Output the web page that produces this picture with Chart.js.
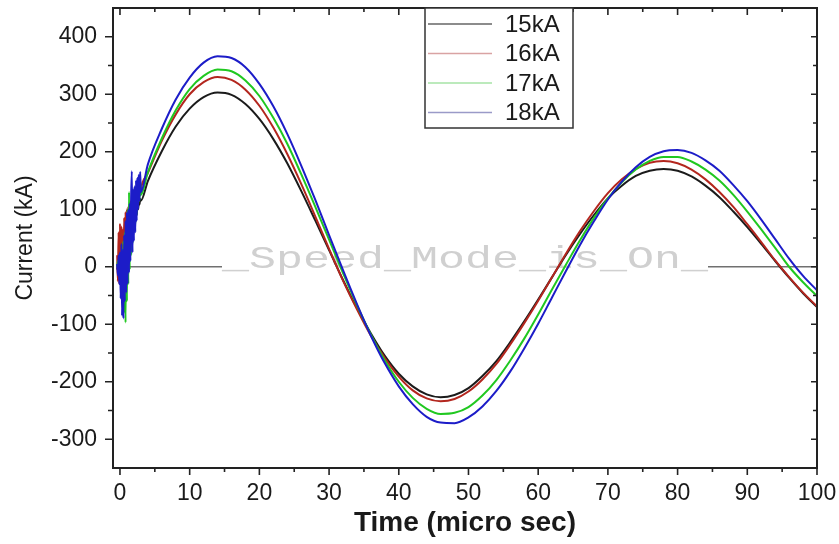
<!DOCTYPE html>
<html>
<head>
<meta charset="utf-8">
<script src="https://cdn.jsdelivr.net/npm/chart.js@4.4.1/dist/chart.umd.min.js"></script>
<style>
  html, body { margin: 0; padding: 0; background: #fff; }
  #wrap { width: 839px; height: 544px; }
</style>
</head>
<body>
<div id="wrap"><canvas id="chart" width="839" height="544"></canvas></div>
<script>
// time axis (micro sec): dense at the noisy start, then every 2 us
const times = [
  -0.4, -0.3, -0.2, -0.1, 0, 0.1, 0.2, 0.3, 0.4, 0.5, 0.6, 0.7, 0.8, 0.9, 1.0, 1.1, 1.2,
  1.3, 1.4, 1.5, 1.6, 1.7, 1.8, 1.9, 2.0, 2.1, 2.2, 2.3, 2.4, 2.5, 2.6, 2.7, 2.8, 2.9, 3.0,
  4, 6, 8, 10, 12, 14, 16, 18, 20, 22, 24, 26, 28, 30, 32, 34, 36, 38, 40, 42, 44, 46, 48,
  50, 52, 54, 56, 58, 60, 62, 64, 66, 68, 70, 72, 74, 76, 78, 80, 82, 84, 86, 88, 90, 92,
  94, 96, 98, 100
];

const cur15 = [
  -5, 5, -10, 10, -15, 20, -20, 30, -15, 40, -5, 45, 5, 55, 15, 60, 30, 70, 40, 75, 50, 80,
  60, 85, 70, 90, 80, 95, 90, 105, 100, 110, 108, 118, 115,
  149, 201, 244, 275, 295, 303, 299, 283, 257, 222, 180, 132, 81, 29, -23, -72, -116, -155,
  -186, -208, -222, -227, -223, -211, -190, -164, -131, -95, -57, -18, 21, 57, 90, 119, 141,
  158, 167, 170, 167, 157, 141, 121, 96, 69, 40, 10, -19, -46, -70
];

const cur16 = [
  20, -25, 60, -30, 75, -20, 70, -10, 65, 0, 85, 15, 95, 25, 100, 40, 105, 50, 110, 60, 115,
  75, 120, 85, 120, 95, 125, 100, 128, 110, 130, 115, 135, 125, 135,
  163, 219, 265, 300, 321, 330, 325, 308, 280, 242, 196, 144, 88, 31, -24, -74, -120, -159,
  -191, -215, -229, -234, -230, -217, -196, -169, -135, -98, -59, -18, 23, 62, 97, 128, 152,
  170, 181, 184, 180, 169, 152, 130, 104, 74, 43, 11, -18, -45, -69
];

const cur17 = [
  0, 10, -10, 15, -20, 20, -40, 30, -60, 45, -80, 60, -97, 75, -60, 100, -30, 130, -5, 110,
  20, 120, 40, 125, 60, 135, 75, 140, 90, 145, 105, 150, 115, 150, 125,
  164, 223, 272, 309, 332, 343, 340, 324, 297, 259, 214, 161, 105, 47, -11, -67, -118, -163,
  -200, -228, -247, -256, -254, -244, -224, -197, -163, -125, -83, -39, 4, 46, 85, 119, 147,
  169, 184, 191, 191, 183, 169, 150, 125, 96, 65, 33, 0, -27, -51
];

const cur18 = [
  5, -15, 20, -30, 25, -55, 40, -85, 30, -90, 55, -60, 80, -45, 95, -30, 100, -10, 110, 10,
  120, 166, 25, 135, 45, 140, 60, 150, 80, 155, 100, 160, 115, 165, 130,
  178, 240, 291, 329, 355, 366, 363, 347, 318, 279, 231, 176, 117, 55, -6, -65, -120, -168,
  -208, -239, -261, -271, -272, -262, -243, -216, -182, -142, -99, -53, -7, 38, 79, 117, 148,
  173, 191, 201, 203, 198, 185, 167, 142, 114, 82, 48, 14, -16, -41
];

const seriesLabels = ['15kA', '16kA', '17kA', '18kA'];
const seriesColors = ['#1b1b1b', '#b3261e', '#20c820', '#1c1cc8'];
const legendColors = ['#666666', '#d9a3a3', '#a6e3a6', '#9a9ac8'];

const xTicks = [0, 10, 20, 30, 40, 50, 60, 70, 80, 90, 100];
const xMinor = [5, 15, 25, 35, 45, 55, 65, 75, 85, 95];
const yTicks = [-300, -200, -100, 0, 100, 200, 300, 400];
const yMinor = [-250, -150, -50, 50, 150, 250, 350];

const FONT = "'Liberation Sans', Arial, sans-serif";

function toPoints(vals) {
  return times.map((t, i) => ({ x: t, y: vals[i] }));
}

const frame = {
  id: 'frame',
  beforeDatasetsDraw(chart) {
    const { ctx, chartArea: a, scales: { x, y } } = chart;
    const y0 = y.getPixelForValue(0);
    ctx.save();
    ctx.strokeStyle = '#707070';
    ctx.lineWidth = 1.5;
    ctx.beginPath();
    ctx.moveTo(x.getPixelForValue(0), y0);
    ctx.lineTo(x.getPixelForValue(100), y0);
    ctx.stroke();

    // watermark
    const cx = (a.left + a.right) / 2;
    ctx.font = "32px 'Liberation Mono', 'DejaVu Sans Mono', monospace";
    const text = '_Speed_Mode_is_On_';
    const w = ctx.measureText(text).width;
    const sx = 486 / w;
    ctx.fillStyle = '#fff';
    ctx.fillRect(cx - 243, y0 - 2, 486, 4);
    ctx.translate(cx, y0 + 1);
    ctx.scale(sx, 1);
    ctx.fillStyle = '#d0d0d0';
    ctx.textAlign = 'center';
    ctx.textBaseline = 'alphabetic';
    ctx.fillText(text, 0, 0);
    ctx.restore();
  },
  afterDraw(chart) {
    const { ctx, chartArea: a, scales: { x, y } } = chart;
    ctx.save();
    ctx.strokeStyle = '#222';
    ctx.lineWidth = 2;
    ctx.strokeRect(a.left, a.top, a.right - a.left, a.bottom - a.top);

    ctx.lineWidth = 1.6;
    ctx.beginPath();
    const xt = (v, len) => {
      const px = x.getPixelForValue(v);
      ctx.moveTo(px, a.bottom); ctx.lineTo(px, a.bottom + len);
      ctx.moveTo(px, a.top); ctx.lineTo(px, a.top + len);
    };
    const yt = (v, len, inner) => {
      const py = y.getPixelForValue(v);
      ctx.moveTo(a.left - len, py); ctx.lineTo(a.left, py);
      ctx.moveTo(a.right - inner, py); ctx.lineTo(a.right, py);
    };
    xTicks.forEach(v => xt(v, 7));
    xMinor.forEach(v => xt(v, 4));
    yTicks.forEach(v => yt(v, 8, 6));
    yMinor.forEach(v => yt(v, 5, 4));
    ctx.stroke();

    // legend box
    const bx = a.left + 312, by = a.top, bw = 148, bh = 120;
    ctx.fillStyle = '#fff';
    ctx.fillRect(bx, by, bw, bh);
    ctx.strokeStyle = '#333';
    ctx.lineWidth = 1.5;
    ctx.strokeRect(bx, by, bw, bh);
    ctx.font = '24px ' + FONT;
    ctx.textBaseline = 'middle';
    ctx.textAlign = 'left';
    seriesLabels.forEach((lab, i) => {
      const ry = by + 16 + i * 29.5;
      ctx.strokeStyle = legendColors[i];
      ctx.lineWidth = 1.5;
      ctx.beginPath();
      ctx.moveTo(bx + 3, ry); ctx.lineTo(bx + 67, ry);
      ctx.stroke();
      ctx.fillStyle = '#1a1a1a';
      ctx.fillText(lab, bx + 80, ry + 1);
    });
    ctx.restore();
  }
};

const datasets = [cur15, cur16, cur17, cur18].map((vals, i) => ({
  label: seriesLabels[i],
  data: toPoints(vals),
  borderColor: seriesColors[i],
  borderWidth: 2,
  pointRadius: 0,
  fill: false,
  cubicInterpolationMode: 'monotone',
  order: 4 - i,
}));

new Chart(document.getElementById('chart'), {
  type: 'line',
  data: { datasets },
  plugins: [frame],
  options: {
    responsive: false,
    animation: false,
    layout: { padding: { top: 8, right: 22, left: 0, bottom: 0 } },
    plugins: { legend: { display: false }, tooltip: { enabled: false } },
    scales: {
      x: {
        type: 'linear',
        min: -1,
        max: 100,
        afterBuildTicks(scale) { scale.ticks = xTicks.map(v => ({ value: v })); },
        afterFit(scale) {
          scale.height = 76;
          scale.paddingLeft = 0; scale.paddingRight = 0;
        },
        grid: { display: false, drawTicks: false },
        border: { display: false },
        ticks: {
          color: '#1a1a1a',
          font: { size: 23, family: FONT },
          padding: 12,
          maxRotation: 0,
          callback: v => String(v),
        },
        title: {
          display: true,
          text: 'Time (micro sec)',
          color: '#1a1a1a',
          font: { size: 28, family: FONT, weight: 'bold' },
          padding: { top: 0, bottom: 4 },
        },
      },
      y: {
        min: -350,
        max: 450,
        afterBuildTicks(scale) { scale.ticks = yTicks.map(v => ({ value: v })); },
        afterFit(scale) {
          scale.width = 113;
          scale.paddingTop = 0; scale.paddingBottom = 0;
        },
        grid: { display: false, drawTicks: false },
        border: { display: false },
        ticks: {
          color: '#1a1a1a',
          font: { size: 23, family: FONT },
          padding: 16,
          callback: v => String(v),
        },
        title: {
          display: true,
          text: 'Current (kA)',
          color: '#1a1a1a',
          font: { size: 23, family: FONT },
          padding: { top: 12, bottom: 0 },
        },
      },
    },
  },
});
</script>
</body>
</html>
